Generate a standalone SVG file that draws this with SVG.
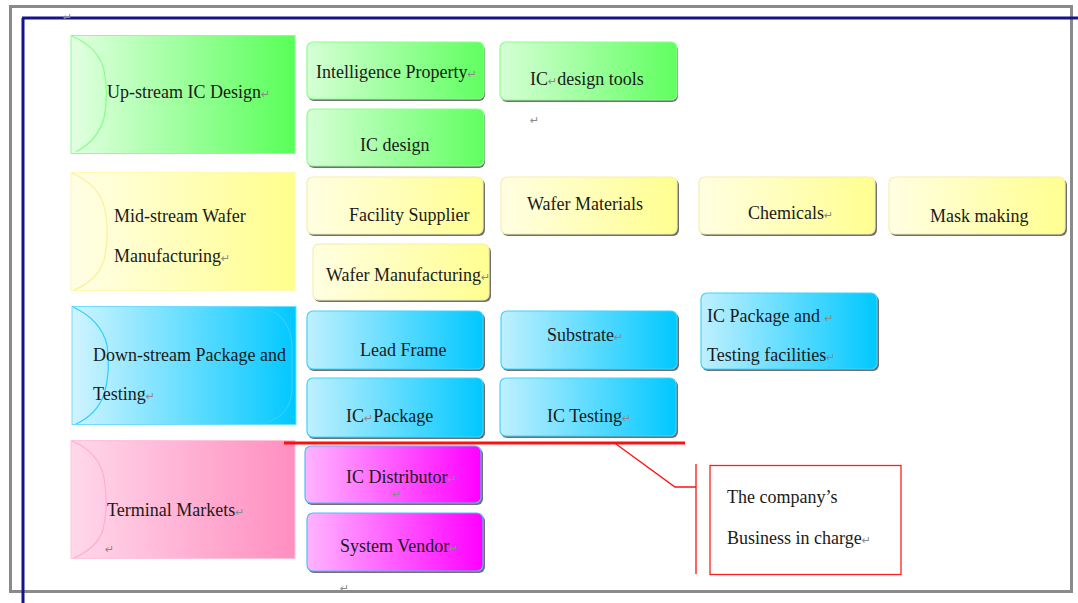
<svg xmlns="http://www.w3.org/2000/svg" width="1078" height="603" viewBox="0 0 1078 603">
<defs>
<linearGradient id="gGh" x1="0" y1="0" x2="1" y2="0"><stop offset="0" stop-color="#e2ffe2"/><stop offset="1" stop-color="#58ff58"/></linearGradient>
<linearGradient id="gG" x1="0" y1="0" x2="1" y2="0"><stop offset="0" stop-color="#d6ffd6"/><stop offset="1" stop-color="#60ff60"/></linearGradient>
<linearGradient id="gYh" x1="0" y1="0" x2="1" y2="0"><stop offset="0" stop-color="#fffee6"/><stop offset="1" stop-color="#ffff8c"/></linearGradient>
<linearGradient id="gY" x1="0" y1="0" x2="1" y2="0"><stop offset="0" stop-color="#fffee2"/><stop offset="1" stop-color="#ffff90"/></linearGradient>
<linearGradient id="gBh" x1="0" y1="0" x2="1" y2="0"><stop offset="0" stop-color="#d0f4ff"/><stop offset="1" stop-color="#00c8ff"/></linearGradient>
<linearGradient id="gB" x1="0" y1="0" x2="1" y2="0"><stop offset="0" stop-color="#bff0ff"/><stop offset="1" stop-color="#00c8ff"/></linearGradient>
<linearGradient id="gPh" x1="0" y1="0" x2="1" y2="0"><stop offset="0" stop-color="#ffd8ea"/><stop offset="1" stop-color="#ff8ec0"/></linearGradient>
<linearGradient id="gM" x1="0" y1="0" x2="1" y2="0"><stop offset="0" stop-color="#ffb4ff"/><stop offset="1" stop-color="#ff00ff"/></linearGradient>
</defs>
<style>
text{font-family:"Liberation Serif","Times New Roman",serif;font-size:18px;fill:#1a1a1a}
.pm{font-family:"DejaVu Sans",sans-serif;font-size:11px;fill:#8a8a8a}
.sh{fill:#707070}
.bx{stroke-width:1.2}
.g{stroke:#8cff8c}
.y{stroke:#f4f0a8}
.b{stroke:#40d4ff}
.m{stroke:#58b8ff}
.hd{stroke-width:1}
.cv{fill:none;stroke-width:1.2}
.red{stroke:#ff1010;fill:none}
</style>
<rect x="0" y="0" width="1078" height="603" fill="#ffffff"/>
<g id="frame">
<rect x="10.5" y="6.5" width="1061" height="585" fill="none" stroke="#8a8a8a" stroke-width="3"/>
<line x1="22" y1="18" x2="1078" y2="18" stroke="#14148c" stroke-width="3"/>
<line x1="23" y1="18" x2="23" y2="603" stroke="#14148c" stroke-width="3"/>
<text class="pm" x="63" y="21">↵</text>
</g>

<g id="hdr-upstream">
<rect x="71" y="35.5" width="224" height="118" fill="url(#gGh)" stroke="#8cff8c" class="hd"/>
<path class="cv" stroke="#88ff88" d="M72 36 Q99 48 104 70 Q109 95 104 118 Q98 140 76 152"/>
<text x="107" y="98">Up-stream IC Design<tspan class="pm">↵</tspan></text>
</g>
<g id="hdr-midstream">
<rect x="71" y="172.5" width="224" height="118" fill="url(#gYh)" stroke="#fff8b0" class="hd"/>
<path class="cv" stroke="#f6f0a0" d="M72 173 Q100 185 105 210 Q110 235 104 260 Q98 280 74 290"/>
<text x="114" y="222">Mid-stream Wafer</text>
<text x="114" y="262">Manufacturing<tspan class="pm">↵</tspan></text>
</g>
<g id="hdr-downstream">
<rect x="72" y="306.5" width="224" height="118" fill="url(#gBh)" stroke="#70dcff" class="hd"/>
<path class="cv" stroke="#30cfff" d="M73 307 Q101 320 107 345 Q111 370 104 395 Q96 415 76 424"/>
<path class="cv" stroke="#30cfff" d="M258 307 Q290 312 292 345 L292 390 Q290 420 258 424"/>
<text x="93" y="361">Down-stream Package and</text>
<text x="93" y="400">Testing<tspan class="pm">↵</tspan></text>
</g>
<g id="hdr-terminal">
<rect x="71" y="440.5" width="224" height="118" fill="url(#gPh)" stroke="#ffc4dc" class="hd"/>
<path class="cv" stroke="#ffaed0" d="M72 441 Q99 452 104 478 Q109 505 103 530 Q97 548 74 558"/>
<text x="107" y="516">Terminal Markets<tspan class="pm">↵</tspan></text>
<text class="pm" x="105" y="553">↵</text>
</g>

<g id="ip">
<rect class="sh" x="308" y="44" width="177" height="57" rx="6"/>
<rect class="bx g" x="307" y="42" width="177" height="57" rx="6" fill="url(#gG)"/>
<text x="316" y="78">Intelligence Property<tspan class="pm">↵</tspan></text>
</g>
<g id="ic-design-tools">
<rect class="sh" x="501" y="44" width="177" height="58" rx="6"/>
<rect class="bx g" x="500" y="42" width="177" height="58" rx="6" fill="url(#gG)"/>
<text x="530" y="85">IC<tspan class="pm">↵</tspan>design tools</text>
</g>
<text class="pm" x="530" y="124">↵</text>
<g id="ic-design">
<rect class="sh" x="308" y="111" width="177" height="57" rx="6"/>
<rect class="bx g" x="307" y="109" width="177" height="57" rx="6" fill="url(#gG)"/>
<text x="360" y="151">IC design</text>
</g>

<g id="facility-supplier">
<rect class="sh" x="308" y="179" width="177" height="57" rx="6"/>
<rect class="bx y" x="307" y="177" width="176" height="57" rx="6" fill="url(#gY)"/>
<text x="349" y="221">Facility Supplier</text>
</g>
<g id="wafer-materials">
<rect class="sh" x="502" y="179" width="177" height="57" rx="6"/>
<rect class="bx y" x="501" y="177" width="176" height="57" rx="6" fill="url(#gY)"/>
<text x="527" y="210">Wafer Materials</text>
</g>
<g id="chemicals">
<rect class="sh" x="700" y="179" width="177" height="57" rx="6"/>
<rect class="bx y" x="699" y="177" width="176" height="57" rx="6" fill="url(#gY)"/>
<text x="748" y="219">Chemicals<tspan class="pm">↵</tspan></text>
</g>
<g id="mask-making">
<rect class="sh" x="890" y="179" width="177" height="57" rx="6"/>
<rect class="bx y" x="889" y="177" width="176" height="57" rx="6" fill="url(#gY)"/>
<text x="930" y="222">Mask making</text>
</g>
<g id="wafer-manufacturing">
<rect class="sh" x="314" y="246" width="177" height="56" rx="6"/>
<rect class="bx y" x="313" y="244" width="176" height="56" rx="6" fill="url(#gY)"/>
<text x="326" y="281">Wafer Manufacturing<tspan class="pm">↵</tspan></text>
</g>

<g id="lead-frame">
<rect class="sh" x="308" y="313" width="177" height="58" rx="6"/>
<rect class="bx b" x="307" y="311" width="176" height="58" rx="6" fill="url(#gB)"/>
<text x="360" y="356">Lead Frame</text>
</g>
<g id="ic-package">
<rect class="sh" x="308" y="380" width="177" height="59" rx="6"/>
<rect class="bx b" x="307" y="378" width="176" height="59" rx="6" fill="url(#gB)"/>
<text x="346" y="422">IC<tspan class="pm">↵</tspan>Package</text>
</g>
<g id="substrate">
<rect class="sh" x="502" y="313" width="177" height="58" rx="6"/>
<rect class="bx b" x="501" y="311" width="176" height="58" rx="6" fill="url(#gB)"/>
<text x="547" y="341">Substrate<tspan class="pm">↵</tspan></text>
</g>
<g id="ic-testing">
<rect class="sh" x="501" y="380" width="177" height="58" rx="6"/>
<rect class="bx b" x="500" y="378" width="176" height="58" rx="6" fill="url(#gB)"/>
<text x="547" y="422">IC Testing<tspan class="pm">↵</tspan></text>
</g>
<g id="ic-package-testing-facilities">
<rect class="sh" x="702" y="295" width="177" height="76" rx="6"/>
<rect class="bx b" x="701" y="293" width="176" height="76" rx="6" fill="url(#gB)"/>
<text x="707" y="322">IC Package and <tspan class="pm">↵</tspan></text>
<text x="707" y="361">Testing facilities<tspan class="pm">↵</tspan></text>
</g>

<g id="ic-distributor">
<rect class="sh" x="306" y="448" width="177" height="57" rx="6"/>
<rect class="bx m" x="305" y="446" width="176" height="57" rx="6" fill="url(#gM)"/>
<text x="346" y="483">IC Distributor<tspan class="pm">↵</tspan></text>
<text class="pm" x="392" y="498">↵</text>
</g>
<g id="system-vendor">
<rect class="sh" x="308" y="515" width="177" height="58" rx="6"/>
<rect class="bx m" x="307" y="513" width="176" height="58" rx="6" fill="url(#gM)"/>
<text x="340" y="552">System Vendor<tspan class="pm">↵</tspan></text>
</g>
<text class="pm" x="340" y="592">↵</text>

<g id="connectors">
<line class="red" x1="284" y1="443" x2="685" y2="443" stroke-width="3"/>
<polyline class="red" points="616,444 675,487 696,487" stroke-width="1.3"/>
<line class="red" x1="696" y1="464" x2="696" y2="574" stroke-width="1.3"/>
</g>

<g id="callout">
<rect x="710" y="465.5" width="191" height="109" fill="#ffffff" stroke="#ff2020" stroke-width="1.3"/>
<text x="727" y="503">The company’s</text>
<text x="727" y="544">Business in charge<tspan class="pm">↵</tspan></text>
</g>
</svg>
